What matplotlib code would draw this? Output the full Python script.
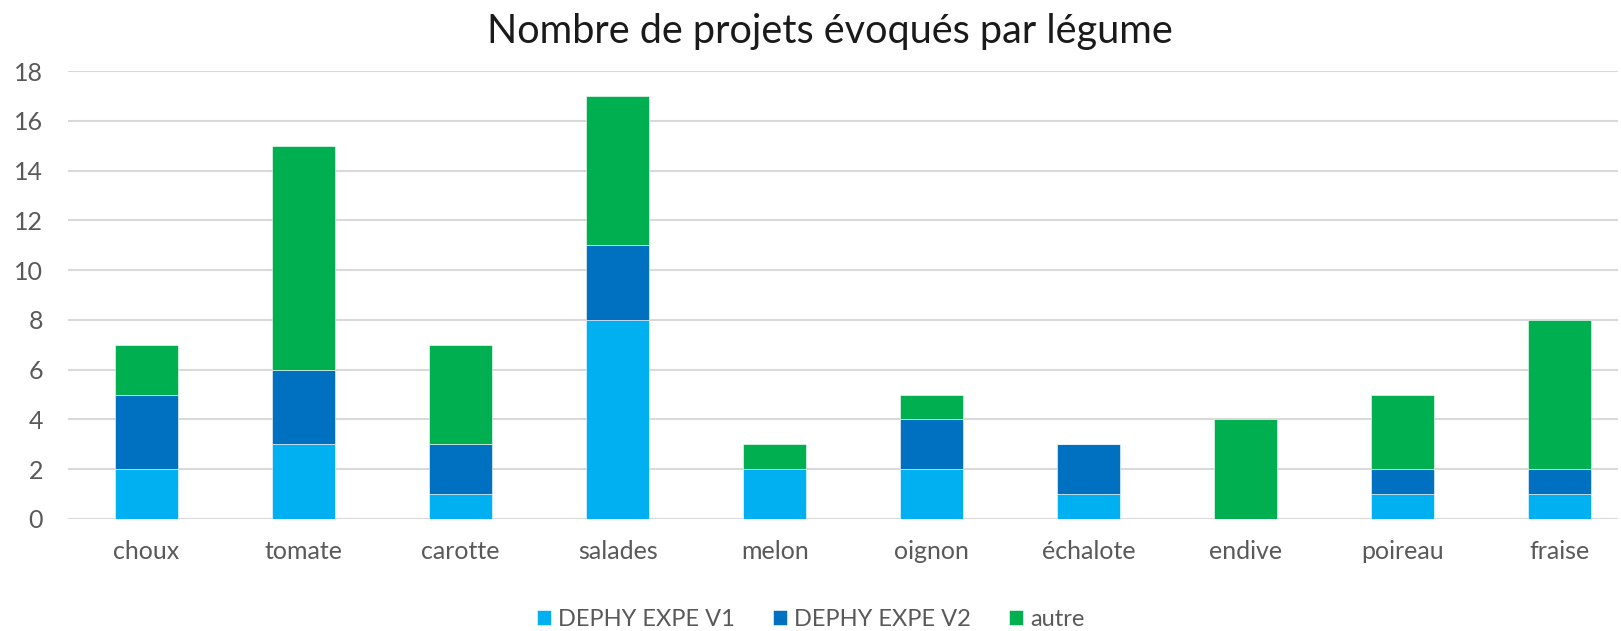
import numpy as np
import matplotlib.pyplot as plt

plt.rcParams['font.family'] = ['Lato', 'DejaVu Sans']

legumes = ['choux', 'tomate', 'carotte', 'salades', 'melon', 'oignon',
           'échalote', 'endive', 'poireau', 'fraise']
v1 = [2, 3, 1, 8, 2, 2, 1, 0, 1, 1]
v2 = [3, 3, 2, 3, 0, 2, 2, 0, 1, 1]
autre = [2, 9, 4, 6, 1, 1, 0, 4, 3, 6]
series = ['DEPHY EXPE V1', 'DEPHY EXPE V2', 'autre']
colors = ['#00B0F0', '#0070C0', '#00B050']

fig = plt.figure(figsize=(16.21, 6.31), dpi=100)
ax = fig.add_axes([68 / 1621, 1 - 519 / 631, (1618 - 68) / 1621, (519 - 71) / 631])

x = np.arange(len(legumes))
bottom = np.zeros(len(legumes))
for name, vals, c in zip(series, [v1, v2, autre], colors):
    vals = np.array(vals)
    ax.bar(x, vals, 0.4, bottom=bottom, color=c, label=name, zorder=3,
           edgecolor='white', linewidth=0.4)
    bottom += vals

ax.set_ylim(0, 18)
ax.set_xlim(-0.5, 9.37)
ax.set_yticks(range(0, 19, 2))
ax.set_xticks(x)
ax.set_xticklabels(legumes)
ax.grid(axis='y', color='#D9D9D9', linewidth=1.5, zorder=0)
for s in ax.spines.values():
    s.set_visible(False)
ax.tick_params(length=0, colors='#595959', labelsize=18)
ax.tick_params(axis='x', pad=15)
ax.tick_params(axis='y', pad=18)

fig.text(0.512, 1 - 31 / 631, 'Nombre de projets évoqués par légume',
         ha='center', va='center', fontsize=28.5, color='#1a1a1a')

leg = fig.legend(loc='center', bbox_to_anchor=(0.5, 1 - 619 / 631), ncol=3,
                 frameon=False, fontsize=17, handlelength=0.6, handleheight=0.6,
                 columnspacing=1.6, handletextpad=0.3)
for t in leg.get_texts():
    t.set_color('#595959')

fig.savefig('out.png', dpi=100)
